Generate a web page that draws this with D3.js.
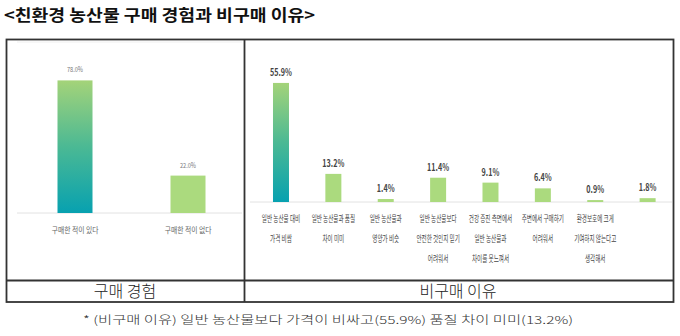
<!DOCTYPE html>
<html><head><meta charset="utf-8">
<script src="https://cdn.jsdelivr.net/npm/d3@7"></script>
<style>body{margin:0;background:#fff}svg{display:block}</style>
</head><body><svg id="c" width="680" height="336"></svg>
<script>
const title = "<친환경 농산물 구매 경험과 비구매 이유>";
const expCats = ["구매한 적이 있다", "구매한 적이 없다"];
const expVals = [78.0, 22.0];
const reasonCats = [
  ["일반 농산물 대비", "가격 비쌈"],
  ["일반 농산물과 품질", "차이 미미"],
  ["일반 농산물과", "영양가 비슷"],
  ["일반 농산물보다", "안전한 것인지 믿기", "어려워서"],
  ["건강 증진 측면에서", "일반 농산물과", "차이를 못느껴서"],
  ["주변에서 구매하기", "어려워서"],
  ["환경보호에 크게", "기여하지 않는다고", "생각해서"],
  [""]
];
const reasonVals = [55.9, 13.2, 1.4, 11.4, 9.1, 6.4, 0.9, 1.8];
const panelLabels = ["구매 경험", "비구매 이유"];
const footnote = "* (비구매 이유) 일반 농산물보다 가격이 비싸고(55.9%) 품질 차이 미미(13.2%)";

const svg = d3.select("#c");
const F = "'Noto Sans CJK KR', 'Noto Sans', sans-serif";
const defs = svg.append("defs");
const grad = defs.append("linearGradient").attr("id", "g1").attr("x1", 0).attr("y1", 0).attr("x2", 0).attr("y2", 1);
grad.append("stop").attr("offset", "0%").attr("stop-color", "#a4d379");
grad.append("stop").attr("offset", "50%").attr("stop-color", "#4bb994");
grad.append("stop").attr("offset", "100%").attr("stop-color", "#07a1b0");
const green = "#abda7e";

// title
svg.append("text").attr("x", 4).attr("y", 21).attr("font-family", F).attr("font-weight", 700)
  .attr("font-size", 16).attr("fill", "#111").attr("textLength", 311).attr("lengthAdjust", "spacingAndGlyphs").text(title);

// ---- left panel
const xL = d3.scalePoint().domain(expCats).range([18.5, 244.5]).padding(0.5);
const yL = d3.scaleLinear().domain([0, 100]).range([213, 43]);
const gL = svg.append("g");
gL.append("line").attr("x1", 17).attr("x2", 242).attr("y1", yL(0)).attr("y2", yL(0)).attr("stroke", "#e2e2e2");
gL.append("line").attr("x1", 17).attr("x2", 242).attr("y1", 42).attr("y2", 42).attr("stroke", "#f0f0f0");
gL.selectAll("rect").data(expVals).join("rect")
  .attr("x", (d, i) => xL(expCats[i]) - 17.5).attr("width", 35)
  .attr("y", d => yL(d)).attr("height", d => yL(0) - yL(d))
  .attr("fill", (d, i) => i === 0 ? "url(#g1)" : green);
gL.selectAll("g.vl").data(expVals).join("g").attr("class", "vl")
  .attr("transform", (d, i) => `translate(${xL(expCats[i])},${yL(d) - 8}) scale(0.8,1)`)
  .append("text").attr("text-anchor", "middle").attr("font-family", F).attr("font-size", 7)
  .attr("fill", "#777").text(d => d.toFixed(1) + "%");
gL.selectAll("g.cl").data(expCats).join("g").attr("class", "cl")
  .attr("transform", d => `translate(${xL(d)},${yL(0) + 20}) scale(0.85,1)`)
  .append("text").attr("text-anchor", "middle").attr("font-family", F).attr("font-size", 8)
  .attr("fill", "#666").text(d => d);

// ---- right panel
const xR = d3.scalePoint().domain(d3.range(reasonVals.length)).range([254.8, 673.8]).padding(0.5);
const yR = d3.scaleLinear().domain([0, 60]).range([202, 74.2]);
const gR = svg.append("g");
gR.append("line").attr("x1", 250).attr("x2", 672).attr("y1", yR(0)).attr("y2", yR(0)).attr("stroke", "#e2e2e2");
gR.selectAll("rect").data(reasonVals).join("rect")
  .attr("x", (d, i) => xR(i) - 8).attr("width", 16)
  .attr("y", d => yR(d)).attr("height", d => yR(0) - yR(d))
  .attr("fill", (d, i) => i === 0 ? "url(#g1)" : green);
gR.selectAll("g.vl").data(reasonVals).join("g").attr("class", "vl")
  .attr("transform", (d, i) => `translate(${xR(i)},${yR(d) - 7}) scale(0.72,1)`)
  .append("text").attr("text-anchor", "middle").attr("font-family", F).attr("font-size", 10)
  .attr("font-weight", 700).attr("fill", "#444").text(d => d.toFixed(1) + "%");
reasonCats.forEach((lines, i) => {
  lines.forEach((ln, j) => {
    if (!ln) return;
    gR.append("g").attr("transform", `translate(${xR(i)},${222 + j * 20}) scale(0.62,1)`)
      .append("text").attr("text-anchor", "middle").attr("font-family", F).attr("font-size", 9)
      .attr("fill", "#444").text(ln);
  });
});

// ---- table frame
const fr = svg.append("g").attr("stroke", "#333").attr("stroke-width", 1.8).attr("fill", "none");
fr.append("rect").attr("x", 6.5).attr("y", 39.5).attr("width", 667).attr("height", 262.5);
fr.append("line").attr("x1", 244.5).attr("x2", 244.5).attr("y1", 39.5).attr("y2", 302);
fr.append("line").attr("x1", 6.5).attr("x2", 673.5).attr("y1", 280.5).attr("y2", 280.5);

svg.append("text").attr("x", 125).attr("y", 297).attr("text-anchor", "middle").attr("font-family", F)
  .attr("font-weight", 300).attr("font-size", 16).attr("fill", "#222").text(panelLabels[0]);
svg.append("text").attr("x", 458).attr("y", 297).attr("text-anchor", "middle").attr("font-family", F)
  .attr("font-weight", 300).attr("font-size", 16).attr("fill", "#222").text(panelLabels[1]);

svg.append("text").attr("x", 83).attr("y", 324).attr("font-family", F).attr("font-size", 11)
  .attr("font-weight", 300).attr("fill", "#333").attr("textLength", 490).attr("lengthAdjust", "spacingAndGlyphs").text(footnote);
</script></body></html>
